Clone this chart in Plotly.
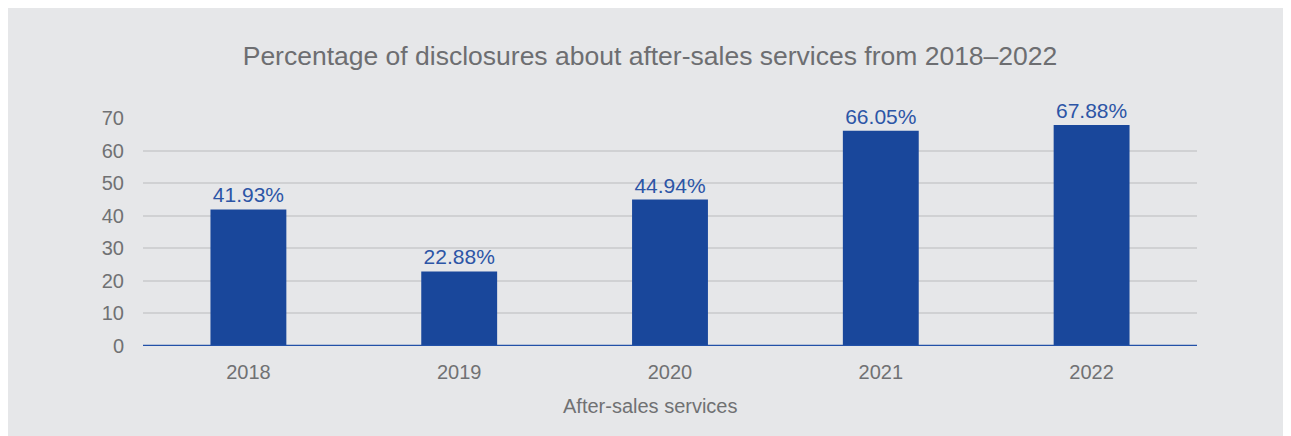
import plotly.graph_objects as go

years = ["2018", "2019", "2020", "2021", "2022"]
values = [41.93, 22.88, 44.94, 66.05, 67.88]
y_ticks = [0, 10, 20, 30, 40, 50, 60, 70]

W, H = 1291, 436
L, R, T, B = 135, 102, 110, 98
pw = W - L - R

BG = "#e6e7e9"
BAR = "#19479b"
TXT = "#707173"
FONT = "Liberation Sans, Arial, sans-serif"

fig = go.Figure(go.Bar(
    x=years, y=values,
    marker=dict(color=BAR, line=dict(width=0)),
    texttemplate="%{y:.2f}%", textposition="outside",
    textfont=dict(color="#2c55a6", size=21, family=FONT),
    cliponaxis=False,
))

fig.update_layout(
    width=W, height=H,
    margin=dict(l=L, r=R, t=T, b=B),
    paper_bgcolor=BG, plot_bgcolor=BG,
    font=dict(family=FONT, color=TXT, size=20),
    bargap=0.64,
    showlegend=False,
    title=dict(text="Percentage of disclosures about after-sales services from 2018\u20132022",
               x=642 / W, xanchor="center", y=1 - 48 / H, yanchor="middle",
               font=dict(size=26.5, color="#6d6e71", family=FONT)),
    xaxis=dict(showgrid=False, showline=False, zeroline=False,
               ticks="outside", ticklen=8, tickcolor="rgba(0,0,0,0)",
               tickfont=dict(size=20, color=TXT)),
    yaxis=dict(range=[0, 70], tickvals=y_ticks, showgrid=True,
               gridcolor="#d0d1d3", gridwidth=2,
               zeroline=False, showline=False,
               ticks="outside", ticklen=14, tickcolor="rgba(0,0,0,0)",
               tickfont=dict(size=20, color=TXT)),
    annotations=[
        dict(text="After-sales services", xref="paper", yref="paper",
             x=(642 - L) / pw, y=0, yshift=-60, xanchor="center", yanchor="middle",
             showarrow=False, font=dict(size=20, color=TXT, family=FONT)),
    ],
    shapes=[
        dict(type="line", xref="paper", yref="y",
             x0=0, x1=1, y0=0, y1=0,
             line=dict(color="#2251a8", width=2.5), layer="above"),
    ],
)

fig.write_html("out.html")
